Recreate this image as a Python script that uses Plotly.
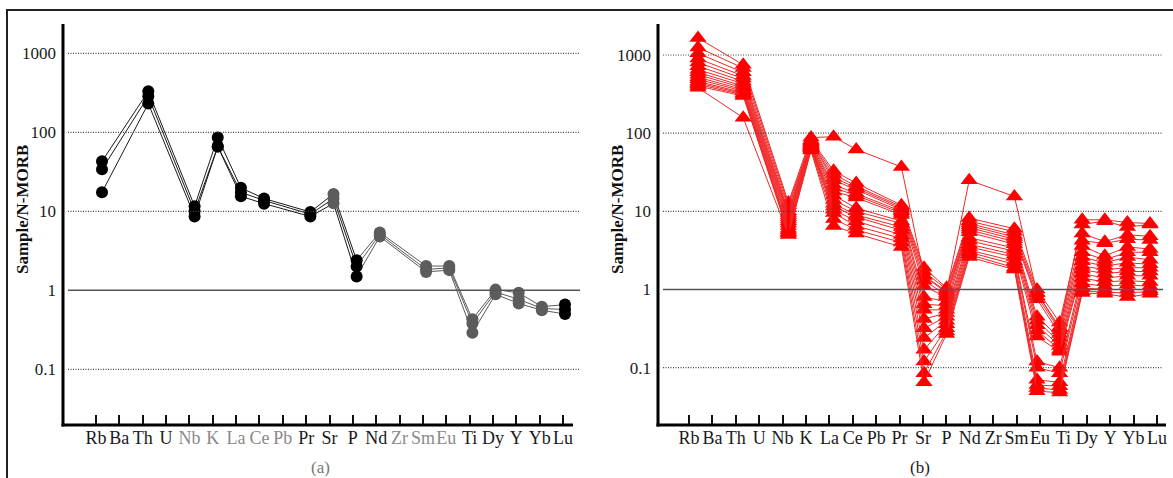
import plotly.graph_objects as go

W, H = 1173, 478

# ---------------- data ----------------
elements = ["Rb", "Ba", "Th", "U", "Nb", "K", "La", "Ce", "Pb", "Pr", "Sr",
            "P", "Nd", "Zr", "Sm", "Eu", "Ti", "Dy", "Y", "Yb", "Lu"]
plotted = ["Rb", "Th", "Nb", "K", "La", "Ce", "Pr", "Sr", "P", "Nd",
           "Sm", "Eu", "Ti", "Dy", "Y", "Yb", "Lu"]
yticks = [0.1, 1, 10, 100, 1000]
ytick_text = ["0.1", "1", "10", "100", "1000"]

# panel (a): three samples, values in plotted order
a_sample1 = [43, 330, 11.6, 86, 19.8, 14.5, 9.8, 16.6, 2.4, 5.4, 2.03, 2.03, 0.43, 1.02, 0.93, 0.62, 0.66]
a_sample2 = [34, 286, 10.0, 66, 17.4, 13.7, 9.2, 14.5, 2.0, 5.1, 1.84, 1.92, 0.38, 0.95, 0.77, 0.59, 0.57]
a_sample3 = [17.4, 231, 8.6, 66, 15.5, 12.5, 8.6, 12.6, 1.5, 4.8, 1.71, 1.80, 0.29, 0.89, 0.68, 0.56, 0.50]
a_labels_gray = ["Nb", "K", "La", "Ce", "Pb", "Zr", "Sm", "Eu"]
a_points_gray = ["Sr", "Nd", "Sm", "Eu", "Ti", "Dy", "Y", "Yb"]

# panel (b): sixteen samples, one list per element
b_Rb = [1650, 1250, 1050, 900, 800, 720, 650, 600, 560, 520, 490, 460, 440, 420, 400, 380]
b_Th = [750, 680, 600, 540, 500, 460, 430, 400, 380, 360, 345, 330, 320, 310, 300, 158]
b_Nb = [13, 12, 11, 10, 9.5, 9, 8.5, 8, 7.5, 7, 6.5, 6, 5.7, 5.4, 5.2, 5]
b_K = [88, 82, 80, 78, 76, 74, 72, 70, 69, 68, 67, 66, 65, 64, 62, 60]
b_La = [90, 33, 30, 27, 25, 22, 20, 18, 16, 14, 12.5, 11.5, 10.5, 9.5, 8, 6.5]
b_Ce = [62, 23, 21, 20, 19, 17, 16, 15, 11, 10, 9, 8.5, 7.5, 6.5, 5.8, 5.2]
b_Pr = [37, 12, 11.5, 11, 10.5, 10, 9.5, 9, 7.5, 7, 6.3, 5.7, 5, 4.5, 4, 3.5]
b_Sr = [1.5, 1.9, 1.7, 1.5, 1.3, 1.1, 0.8, 0.65, 0.55, 0.42, 0.32, 0.24, 0.17, 0.12, 0.085, 0.065]
b_P = [0.95, 1.05, 1.0, 0.9, 0.85, 0.8, 0.7, 0.62, 0.55, 0.5, 0.45, 0.4, 0.36, 0.32, 0.29, 0.27]
b_Nd = [25, 8.2, 7.5, 7.0, 6.6, 6.2, 5.8, 5.4, 4.6, 4.2, 3.8, 3.5, 3.2, 3.0, 2.8, 2.6]
b_Sm = [15.5, 6.0, 5.5, 5.0, 4.7, 4.4, 4.1, 3.8, 3.4, 3.1, 2.8, 2.6, 2.3, 2.1, 1.9, 1.8]
b_Eu = [0.9, 1.0, 0.9, 0.82, 0.75, 0.45, 0.4, 0.35, 0.3, 0.25, 0.12, 0.1, 0.07, 0.06, 0.055, 0.05]
b_Ti = [0.32, 0.38, 0.33, 0.3, 0.27, 0.24, 0.21, 0.19, 0.17, 0.16, 0.1, 0.085, 0.065, 0.058, 0.052, 0.048]
b_Dy = [7.8, 6.8, 5.2, 4.2, 3.6, 3.0, 2.6, 2.3, 2.0, 1.8, 1.6, 1.4, 1.2, 1.05, 0.95, 0.9]
b_Y = [7.8, 7.5, 4.1, 3.9, 2.7, 2.4, 2.2, 2.0, 1.8, 1.6, 1.4, 1.25, 1.1, 1.0, 0.93, 0.88]
b_Yb = [7.2, 6.3, 5.0, 4.4, 3.5, 3.0, 2.6, 2.2, 1.9, 1.7, 1.5, 1.3, 1.15, 1.0, 0.9, 0.8]
b_Lu = [7.0, 6.8, 4.8, 4.3, 3.3, 3.0, 2.4, 2.1, 1.9, 1.7, 1.5, 1.25, 1.1, 1.0, 0.95, 0.88]

# ---------------- helpers ----------------
FONT = "Liberation Serif"


def pxx(x):
    return x / W


def pxy(y):
    return 1 - y / H


xpos = [elements.index(e) for e in plotted]
n_el = len(elements)

fig = go.Figure()

# panel (a) traces
split = plotted.index("P")
for s in (a_sample1, a_sample2, a_sample3):
    fig.add_trace(go.Scatter(x=xpos[:split + 1], y=s[:split + 1], mode="lines",
                             line=dict(color="#1a1a1a", width=1),
                             xaxis="x", yaxis="y", showlegend=False, hoverinfo="skip"))
    fig.add_trace(go.Scatter(x=xpos[split:], y=s[split:], mode="lines",
                             line=dict(color="#5a5a5a", width=1),
                             xaxis="x", yaxis="y", showlegend=False, hoverinfo="skip"))
for s in (a_sample1, a_sample2, a_sample3):
    colors = ["#5c5c5c" if e in a_points_gray else "#000000" for e in plotted]
    fig.add_trace(go.Scatter(x=xpos, y=s, mode="markers",
                             marker=dict(symbol="circle", size=12, color=colors,
                                         line=dict(width=0)),
                             xaxis="x", yaxis="y", showlegend=False))

# panel (b) traces
b_cols = [b_Rb, b_Th, b_Nb, b_K, b_La, b_Ce, b_Pr, b_Sr, b_P, b_Nd,
          b_Sm, b_Eu, b_Ti, b_Dy, b_Y, b_Yb, b_Lu]
n_b = len(b_Rb)
for i in range(n_b):
    vals = [col[i] for col in b_cols]
    fig.add_trace(go.Scatter(x=xpos, y=vals, mode="lines+markers",
                             line=dict(color="#f02828", width=1),
                             marker=dict(symbol="triangle-up", size=15, color="#ff0000",
                                         line=dict(width=0)),
                             xaxis="x2", yaxis="y2", showlegend=False))

# ---------------- axes ----------------
# In the source figure the tick marks are slightly misregistered relative to
# the plotted points; the tick positions below reproduce that (pixel layout).
def tick_positions(tick0_px, tick_step_px, data0_px, data_step_px):
    return [(tick0_px + tick_step_px * i - data0_px) / data_step_px for i in range(n_el)]


tick_a = [f'<span style="color:#8a8a8a">{e}</span>' if e in a_labels_gray else e
          for e in elements]
xcommon = dict(tickmode="array", tickangle=0,
               ticks="inside", ticklen=10, tickwidth=1.5, tickcolor="#111",
               showline=False, showgrid=False, zeroline=False,
               tickfont=dict(family=FONT, size=18, color="#1a1a1a"))
ycommon = dict(type="log", tickmode="array", tickvals=yticks, ticktext=ytick_text,
               ticks="", showline=False, showgrid=False, zeroline=False,
               ticklabelstandoff=6,
               tickfont=dict(family=FONT, size=17, color="#1a1a1a"))

ydom = [pxy(425), pxy(25)]
dom_a = [pxx(63), pxx(580)]
dom_b = [pxx(658), pxx(1166)]

fig.update_layout(
    xaxis=dict(domain=dom_a, range=[(63 - 102) / 23.15, (580 - 102) / 23.15],
               tickvals=tick_positions(96, 23.35, 102, 23.15), ticktext=tick_a,
               anchor="y", **xcommon),
    yaxis=dict(domain=ydom, range=[-1.705, 3.358], anchor="x", **ycommon),
    xaxis2=dict(domain=dom_b, range=[(658 - 698) / 22.6, (1166 - 698) / 22.6],
                tickvals=tick_positions(689, 23.4, 698, 22.6), ticktext=elements,
                anchor="y2", **xcommon),
    yaxis2=dict(domain=ydom, range=[-1.733, 3.384], anchor="x2", **ycommon),
)

# ---------------- shapes ----------------
shapes = []
# outer frame
shapes.append(dict(type="line", xref="paper", yref="paper", x0=pxx(6), x1=1.0,
                   y0=pxy(10), y1=pxy(10), line=dict(color="#222", width=2)))
shapes.append(dict(type="line", xref="paper", yref="paper", x0=pxx(7), x1=pxx(7),
                   y0=pxy(10), y1=0, line=dict(color="#222", width=2)))

for yref, gx0, gx1, ax_x, ax_end in (("y", 68, 580, 63, 573), ("y2", 663, 1163, 658, 1166)):
    for v in yticks:
        if v == 1:
            shapes.append(dict(type="line", xref="paper", yref=yref, x0=pxx(gx0), x1=pxx(gx1),
                               y0=v, y1=v, line=dict(color="#555", width=1.6)))
        else:
            shapes.append(dict(type="line", xref="paper", yref=yref, x0=pxx(gx0), x1=pxx(gx1),
                               y0=v, y1=v, line=dict(color="#444", width=1.2, dash="1px,1.5px")))
    # y axis line
    shapes.append(dict(type="line", xref="paper", yref="paper", x0=pxx(ax_x), x1=pxx(ax_x),
                       y0=pxy(426.5), y1=pxy(24), line=dict(color="#000", width=3)))
    # x axis line
    shapes.append(dict(type="line", xref="paper", yref="paper", x0=pxx(ax_x - 1.5), x1=pxx(ax_end),
                       y0=pxy(425), y1=pxy(425), line=dict(color="#000", width=3)))

fig.update_layout(shapes=shapes)

# ---------------- annotations ----------------
ann = []
for cx in (22, 617):
    ann.append(dict(text="<b>Sample/N-MORB</b>", x=pxx(cx), y=pxy(210), xref="paper", yref="paper",
                    showarrow=False, textangle=-90, xanchor="center", yanchor="middle",
                    font=dict(family=FONT, size=17, color="#111")))
ann.append(dict(text="(a)", x=pxx(320), y=pxy(467), xref="paper", yref="paper", showarrow=False,
                xanchor="center", yanchor="middle", font=dict(family=FONT, size=17, color="#777")))
ann.append(dict(text="(b)", x=pxx(920), y=pxy(467), xref="paper", yref="paper", showarrow=False,
                xanchor="center", yanchor="middle", font=dict(family=FONT, size=17, color="#222")))

fig.update_layout(
    annotations=ann,
    width=W, height=H,
    margin=dict(l=0, r=0, t=0, b=0),
    paper_bgcolor="white", plot_bgcolor="white",
    showlegend=False,
    font=dict(family=FONT),
)

fig.write_html("out.html", config={"displayModeBar": False},
               post_script="document.body.style.margin='0';document.body.style.padding='0';")
